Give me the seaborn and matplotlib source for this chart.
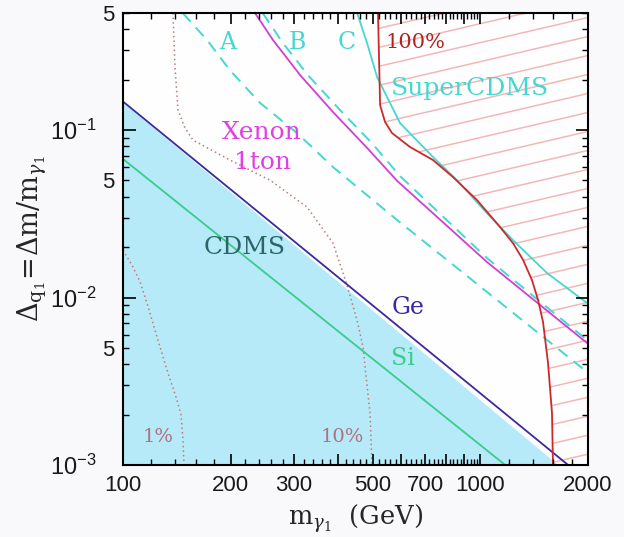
import numpy as np
import matplotlib
matplotlib.use('Agg')
import matplotlib.pyplot as plt
from matplotlib.ticker import FixedLocator, FixedFormatter
from matplotlib.collections import LineCollection
from matplotlib.patches import Polygon
import seaborn as sns

sns.set_style("ticks")
plt.rcParams['font.family'] = ['Liberation Sans', 'DejaVu Sans']
plt.rcParams['mathtext.fontset'] = 'custom'
plt.rcParams['mathtext.rm'] = 'Liberation Sans'
plt.rcParams['mathtext.it'] = 'Liberation Sans:italic'
plt.rcParams['mathtext.bf'] = 'Liberation Sans:bold'

# ---- curves (m in GeV, Delta = dm/m) ----
ge_m = [100, 2000]
ge_d = [0.148, 0.0008]
si_m = [100, 2000]
si_d = [0.0672, 0.000402]
cdms_m = [100, 2000]
cdms_d = [0.146, 0.00071]

xenon_m = [234, 263, 313, 387, 482, 585, 1043, 1988]
xenon_d = [0.5, 0.344, 0.213, 0.128, 0.0782, 0.0497, 0.0163, 0.00535]

a_m = [147, 172, 199, 242, 307, 387, 585, 1988]
a_d = [0.5, 0.344, 0.228, 0.145, 0.0959, 0.0601, 0.0290, 0.00359]

b_m = [246, 279, 329, 405, 497, 596, 1043, 1988]
b_d = [0.5, 0.335, 0.213, 0.1315, 0.0836, 0.0531, 0.0172, 0.00557]

super_m = [452, 482, 514, 596, 737, 860, 1043, 1234, 1536, 1988]
super_d = [0.5, 0.330, 0.207, 0.110, 0.0690, 0.0502, 0.0319, 0.0220, 0.0140, 0.00927]

red_m = [517, 524, 541, 566, 635, 737, 838, 978, 1134, 1234, 1316, 1394, 1450,
         1497, 1546, 1586, 1596]
red_d = [0.5, 0.141, 0.1117, 0.0959, 0.0793, 0.0662, 0.0524, 0.0382, 0.0264,
         0.0211, 0.0168, 0.0127, 0.00966, 0.00714, 0.00406, 0.00204, 0.001]

p10_m = [138, 139.8, 142.5, 149.1, 157, 199.3, 257.8, 327.2, 386.9, 420.7,
         451.6, 469.4, 491, 497.4]
p10_d = [0.5, 0.238, 0.1315, 0.1028, 0.0871, 0.0662, 0.0502, 0.0347, 0.0211,
         0.0124, 0.00735, 0.00506, 0.00204, 0.001]

p1_m = [100, 102.6, 106.7, 111.6, 116.7, 124.5, 132.8, 141.6, 145.3, 147.2, 148.1]
p1_d = [0.0192, 0.0175, 0.0152, 0.0124, 0.00927, 0.00581, 0.00369, 0.00244,
        0.00199, 0.00141, 0.001]

x_major = [100, 200, 300, 400, 500, 600, 700, 800, 900, 1000, 2000]
x_labels = ['100', '200', '300', '', '500', '', '700', '', '', '1000', '2000']
y_major = [1e-3, 1e-2, 1e-1]
y_labels = [r'$10^{-3}$', r'$10^{-2}$', r'$10^{-1}$']

# ---- colours ----
c_fill = '#b6eaf8'
c_ge = '#3a2a9c'
c_si = '#3ccb8c'
c_mag = '#d23ed2'
c_cyan = '#44d8d0'
c_red = '#cc2a2a'
c_dot = '#c07a7a'
c_hatch = '#f2b8b8'

fig = plt.figure(figsize=(6.24, 5.37), dpi=100, facecolor='#f9f9fc')
ax = fig.add_axes([123/624, 1 - 465/537, 465/624, 452/537])
ax.set_facecolor('#fefeff')
ax.set_xscale('log')
ax.set_yscale('log')
ax.set_axisbelow(False)  # seaborn style puts ticks under the fill otherwise

# CDMS excluded region
ax.fill_between(cdms_m, cdms_d, 1e-5, color=c_fill, lw=0, zorder=1)

# hatched region right of the 100% line
clip_poly = Polygon(list(zip(red_m, red_d)) + [(2200, 0.0009), (2200, 0.5)],
                    closed=True, transform=ax.transData)
segs = [[(0, c), (1, c + 0.24)] for c in np.arange(-0.3, 1.05, 0.042)]
lc = LineCollection(segs, colors=c_hatch, linewidths=1.1,
                    transform=ax.transAxes, zorder=1)
ax.add_collection(lc)
lc.set_clip_path(clip_poly)

kw = dict(ax=ax, sort=False, estimator=None, legend=False)
sns.lineplot(x=p1_m, y=p1_d, color=c_dot, lw=1.1, linestyle=(0, (1, 2)), **kw)
sns.lineplot(x=p10_m, y=p10_d, color=c_dot, lw=1.1, linestyle=(0, (1, 2)), **kw)
sns.lineplot(x=si_m, y=si_d, color=c_si, lw=1.3, **kw)
sns.lineplot(x=ge_m, y=ge_d, color=c_ge, lw=1.3, **kw)
sns.lineplot(x=a_m, y=a_d, color=c_cyan, lw=1.4, linestyle=(0, (6, 4)), **kw)
sns.lineplot(x=xenon_m, y=xenon_d, color=c_mag, lw=1.3, **kw)
sns.lineplot(x=b_m, y=b_d, color=c_cyan, lw=1.4, linestyle=(0, (6, 4)), **kw)
sns.lineplot(x=super_m, y=super_d, color=c_cyan, lw=1.3, **kw)
sns.lineplot(x=red_m, y=red_d, color=c_red, lw=1.3, **kw)

ax.set_xlim(100, 2000)
ax.set_ylim(1e-3, 0.5)

# ---- ticks ----
ax.xaxis.set_major_locator(FixedLocator(x_major))
ax.xaxis.set_major_formatter(FixedFormatter(x_labels))
x_minor = [v for v in range(120, 1000, 20) if v % 100] + [1200, 1400, 1600, 1800]
ax.xaxis.set_minor_locator(FixedLocator(x_minor))
ax.xaxis.set_minor_formatter(FixedFormatter([''] * len(x_minor)))

ax.yaxis.set_major_locator(FixedLocator(y_major))
ax.yaxis.set_major_formatter(FixedFormatter(y_labels))
y_minor = [k * 10.0**e for e in (-3, -2, -1) for k in range(2, 10) if k * 10.0**e <= 0.5]
ax.yaxis.set_minor_locator(FixedLocator(y_minor))
ax.yaxis.set_minor_formatter(FixedFormatter(['5' if abs(v / 10**np.floor(np.log10(v)) - 5) < 1e-6 else '' for v in y_minor]))

ax.tick_params(which='both', direction='in', top=True, right=True, colors='black',
               labelcolor='#1a1a1a', labelsize=16, pad=7)
ax.tick_params(which='major', length=8, width=1.2)
ax.tick_params(which='minor', length=4, width=1.0)
ax.tick_params(axis='y', which='major', length=9, pad=19, labelsize=17)
ax.tick_params(axis='y', which='minor', pad=6)
for sp in ax.spines.values():
    sp.set_linewidth(1.5)
    sp.set_color('black')
    sp.set_zorder(5)

ax.set_xlabel(r'$\mathrm{m}_{\gamma_1}\ \ \mathrm{(GeV)}$', fontsize=18.5,
              math_fontfamily='dejavuserif', labelpad=5)
ax.set_ylabel(r'$\Delta_{\mathrm{q}_1}\!=\!\Delta\mathrm{m}/\mathrm{m}_{\gamma_1}$', fontsize=19.5,
              math_fontfamily='dejavuserif', labelpad=1)

# ---- annotations ----
serif = dict(family='DejaVu Serif', ha='center', va='center')
ax.text(196.7, 0.335, 'A', color=c_cyan, fontsize=17, **serif)
ax.text(306.8, 0.335, 'B', color=c_cyan, fontsize=17, **serif)
ax.text(423.4, 0.335, 'C', color=c_cyan, fontsize=17, **serif)
ax.text(656, 0.335, '100%', color='#b02222', fontsize=15, **serif)
ax.text(935, 0.178, 'SuperCDMS', color=c_cyan, fontsize=18, **serif)
ax.text(245, 0.0973, 'Xenon', color='#e040e0', fontsize=18, **serif)
ax.text(245, 0.0644, '1ton', color='#e040e0', fontsize=18, **serif)
ax.text(219, 0.0200, 'CDMS', color='#2a6666', fontsize=18, **serif)
ax.text(627, 0.00866, 'Ge', color=c_ge, fontsize=17, **serif)
ax.text(607, 0.00435, 'Si', color=c_si, fontsize=17, **serif)
ax.text(125.3, 0.00147, '1%', color='#b07080', fontsize=14, **serif)
ax.text(410, 0.00147, '10%', color='#b07080', fontsize=14, **serif)

fig.savefig('out.png', dpi=100, facecolor=fig.get_facecolor())
